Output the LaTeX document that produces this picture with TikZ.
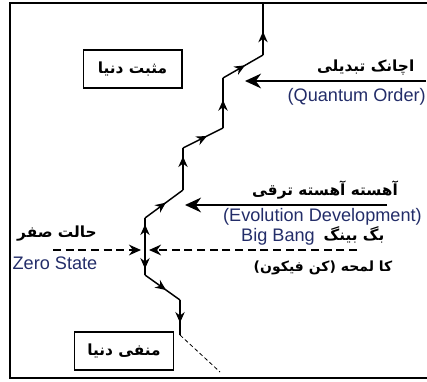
\documentclass[tikz,border=0pt]{standalone}
\usepackage{fontspec}
\setmainfont{Liberation Sans}
\newfontfamily\urdu[Script=Arabic]{DejaVu Sans}
\TeXXeTstate=1
\usetikzlibrary{calc,arrows.meta,decorations.markings}
\definecolor{navy}{RGB}{35,45,105}
\tikzset{
  flow/.style={decoration={markings,mark=at position #1 with {\arrow{Stealth[length=8pt,width=7pt]}}},postaction={decorate}},
  flow/.default=0.5,
  world/.style={draw,line width=1pt,minimum width=74pt,minimum height=28.5pt,inner sep=0pt},
  ur/.style={font=\urdu\bfseries\fontsize{11.5}{14}\selectfont},
  en/.style={text=navy,font=\fontsize{13.6}{15}\selectfont,inner sep=0pt}
}
\newcommand{\rl}[1]{\beginR #1\endR}

\begin{document}
\begin{tikzpicture}[x=0.75pt,y=-0.75pt]
  \useasboundingbox (0,0) rectangle (427,381);
  \draw[line width=0.8pt] (430,3) -- (10,3) -- (10,378) -- (430,378);

  \coordinate (zero) at (145,250);
  \coordinate (u1) at (145,218);
  \coordinate (u2) at (183,190);
  \coordinate (u3) at (183,148);
  \coordinate (u4) at (223,128);
  \coordinate (u5) at (223,78);
  \coordinate (u6) at (263,55);
  \coordinate (u7) at (263,3);
  \coordinate (d1) at (145,275);
  \coordinate (d2) at (180,300);
  \coordinate (d3) at (180,335);
  \coordinate (d4) at (220,372);

  \begin{scope}[line width=1.1pt]
    \draw[flow=0.8] (zero) -- (u1);
    \draw[flow=0.55] (u1) -- (u2);
    \draw[flow=0.8] (u2) -- (u3);
    \draw[flow=0.6] (u3) -- (u4);
    \draw[flow=0.56] (u4) -- (u5);
    \draw[flow=0.55] (u5) -- (u6);
    \draw[flow=0.45] (u6) -- (u7);
    \draw[flow=0.75] (zero) -- (d1);
    \draw[flow=0.6] (d1) -- (d2);
    \draw[flow=0.65] (d2) -- (d3);
  \end{scope}
  \draw[densely dashed,line width=0.6pt] (d3) -- (d4);

  \node[world,ur] (pos) at (132.5,69) {\rl{مثبت دنیا}};
  \node[world,ur] (neg) at (124,351) {\rl{منفی دنیا}};

  \coordinate (qs) at (426,81);
  \coordinate (qe) at (245,81);
  \draw[line width=1.5pt,-{Stealth[length=12pt,width=11pt]}] (qs) -- (qe);
  \node[ur,anchor=south east] (sudden) at (419,80) {\rl{اچانک تبدیلی}};
  \node[en,anchor=east] (quantum) at (426,97) {(Quantum Order)};

  \coordinate (es) at (387,205);
  \coordinate (ee) at (185,205);
  \draw[line width=1.5pt,-{Stealth[length=12pt,width=11pt]}] (es) -- (ee);
  \node[ur,anchor=south] (slow) at (325,204) {\rl{آهسته آهسته ترقی}};
  \node[en,anchor=east] (evol) at (422,217) {(Evolution Development)};

  \coordinate (zw) at (53,250);
  \coordinate (ze) at (357,250);
  \draw[line width=2.2pt,dash pattern=on 6pt off 3.5pt,-{Stealth[length=9pt,width=8pt]}] (zw) -- (141,250);
  \draw[line width=2.2pt,dash pattern=on 6pt off 3.5pt,-{Stealth[length=9pt,width=8pt]}] (ze) -- (149,250);

  \node[en] (bbang) at (278,237) {Big Bang};
  \node[ur] (bbangur) at (354,235) {\rl{بگ بینگ}};
  \node[ur,font=\urdu\bfseries\fontsize{10.5}{13}\selectfont] (moment) at (323,268) {\rl{کا لمحه (کن فیکون)}};
  \node[ur] (zerour) at (57,234) {\rl{حالت صفر}};
  \node[en] (zerost) at (55,263) {Zero State};
\end{tikzpicture}
\end{document}
